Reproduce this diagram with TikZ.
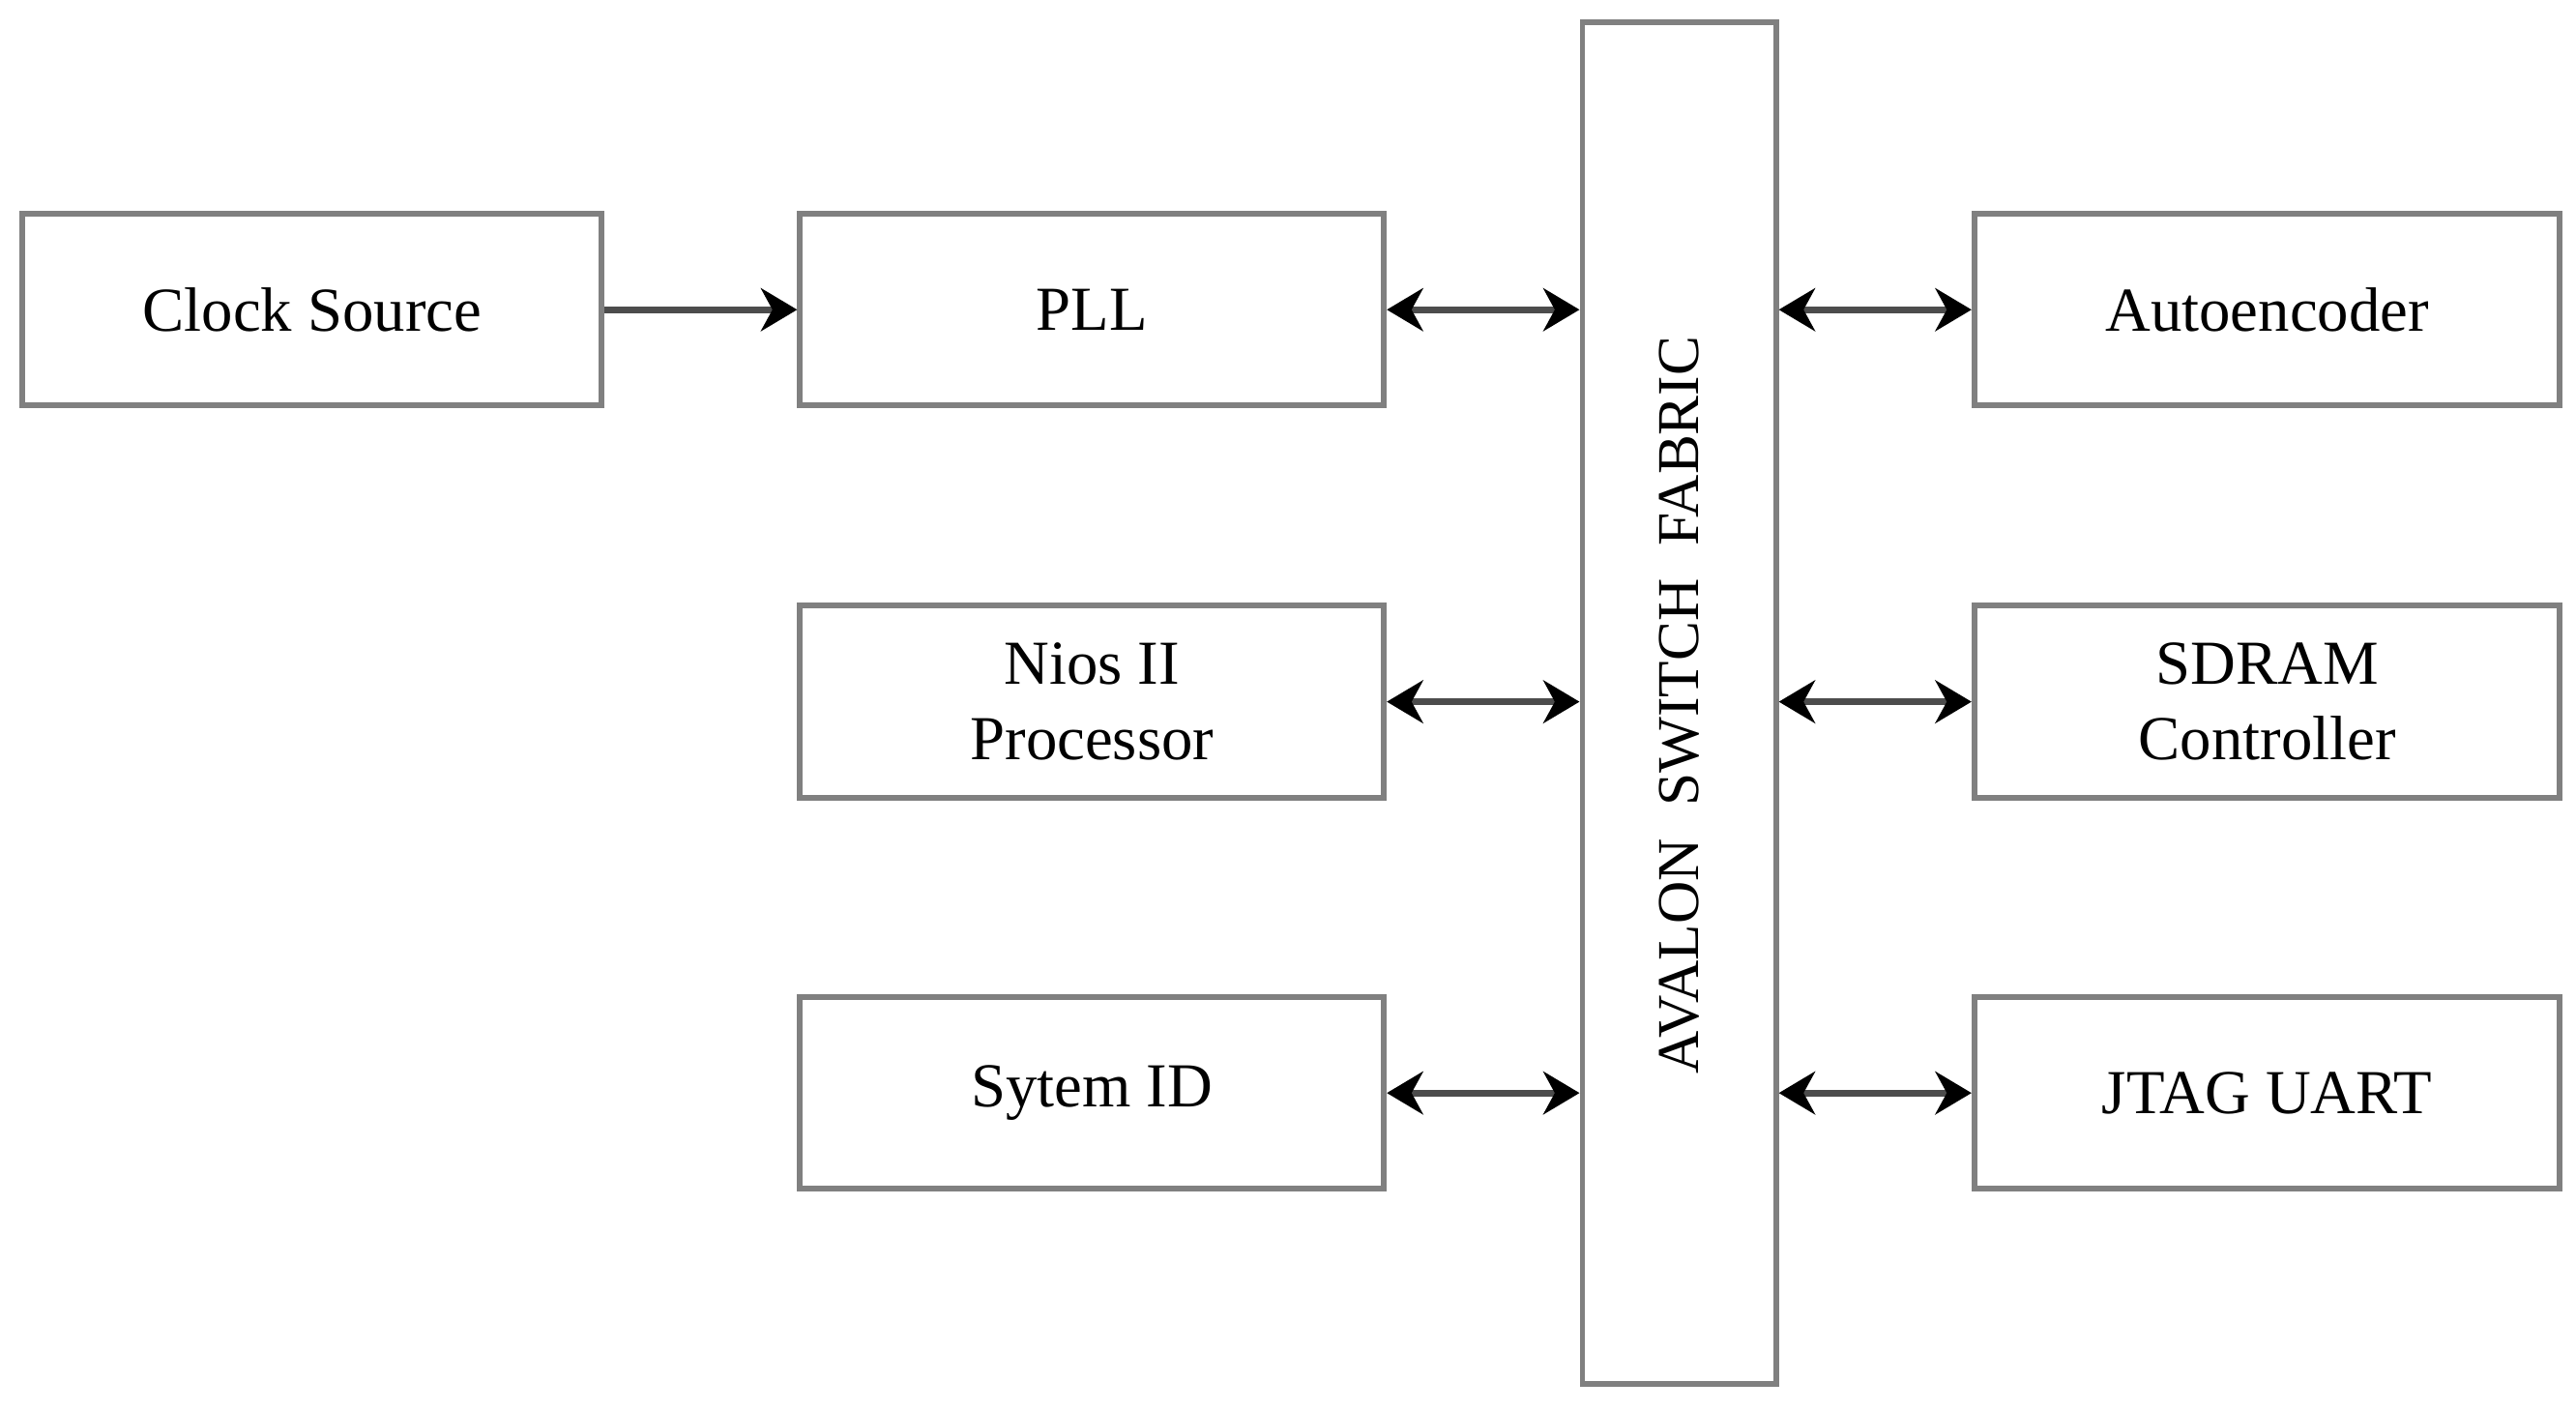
\documentclass[tikz,border=0pt]{standalone}
\usepackage{fontspec}
\setmainfont{Liberation Serif}
\usetikzlibrary{arrows.meta}
\definecolor{boxgray}{gray}{0.5}
\definecolor{linegray}{gray}{0.3}
\begin{document}
\begin{tikzpicture}[x=1pt,y=-1pt,
  blk/.style={draw=boxgray, line width=3.5pt, fill=white, minimum height=116.5pt, inner sep=0pt, align=center,
     font=\fontsize{38}{46}\selectfont},
  conn/.style={draw=linegray, line width=4pt, -{Stealth[length=22pt,width=26pt,inset=7pt,color=black]}},
  biconn/.style={draw=linegray, line width=4pt, {Stealth[length=22pt,width=26pt,inset=7pt,color=black]}-{Stealth[length=22pt,width=26pt,inset=7pt,color=black]}}
]
\useasboundingbox (0,0) rectangle (1564,856);
\node[blk, minimum width=351.5pt] (clk) at (189.5,188) {Clock Source};
\node[blk, minimum width=354.5pt] (pll) at (663,188) {PLL};
\node[blk, minimum width=354.5pt] (nios) at (663,426) {Nios II\\Processor};
\node[blk, minimum width=354.5pt] (sid) at (663,663.5) {Sytem ID};
\node[blk, minimum width=117.5pt, minimum height=826.5pt] (fab) at (1019.5,427) {};
\node[font=\fontsize{36}{44}\selectfont, rotate=90] (fabtxt) at (1019.5,428) {AVALON\hspace{0.3em} SWITCH\hspace{0.3em} FABRIC};
\node[blk, minimum width=355.5pt] (ae) at (1376.5,188) {Autoencoder};
\node[blk, minimum width=355.5pt] (sdram) at (1376.5,426) {SDRAM\\Controller};
\node[blk, minimum width=355.5pt] (jtag) at (1376.5,663.5) {JTAG UART};
\draw[conn] (clk.east) -- (pll.west);
\draw[biconn] (pll.east) -- (pll.east -| fab.west);
\draw[biconn] (nios.east) -- (nios.east -| fab.west);
\draw[biconn] (sid.east) -- (sid.east -| fab.west);
\draw[biconn] (ae.west -| fab.east) -- (ae.west);
\draw[biconn] (sdram.west -| fab.east) -- (sdram.west);
\draw[biconn] (jtag.west -| fab.east) -- (jtag.west);
\end{tikzpicture}
\end{document}
